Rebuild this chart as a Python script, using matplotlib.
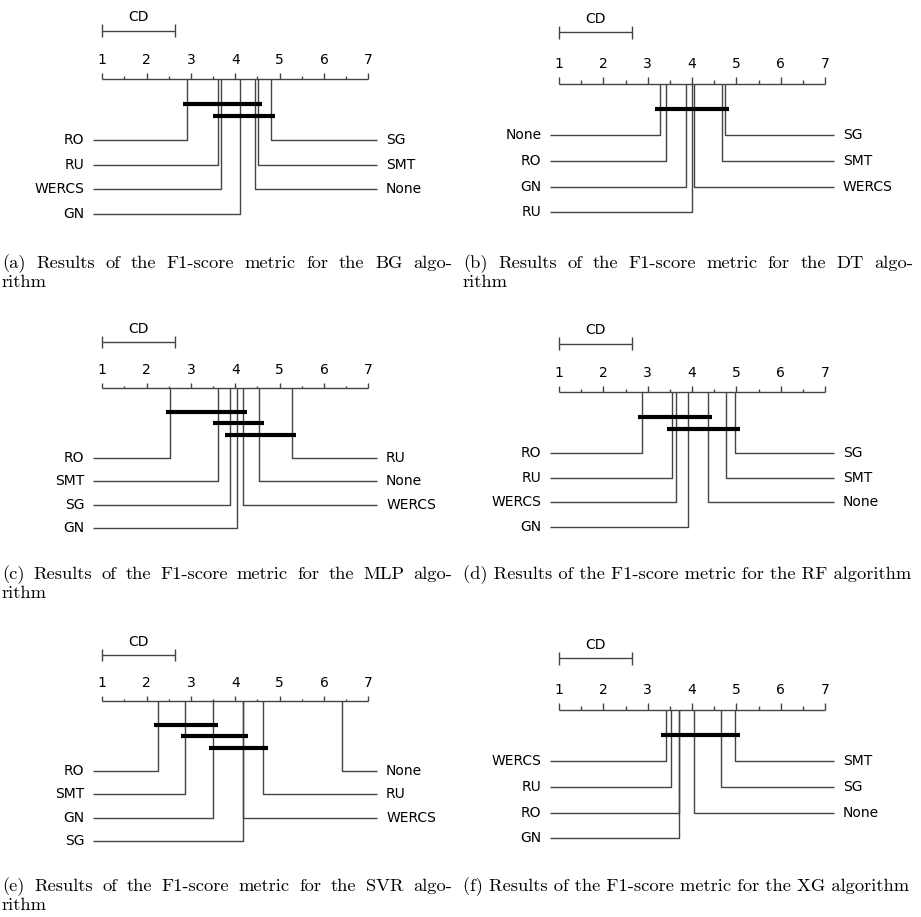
import numpy as np
import matplotlib.pyplot as plt

# average ranks (k=7, N=30)
cd = 1.645

bg_names = ['RO', 'RU', 'WERCS', 'GN', 'None', 'SMT', 'SG']
bg_ranks = [2.91, 3.60, 3.67, 4.11, 4.44, 4.51, 4.80]

dt_names = ['None', 'RO', 'GN', 'RU', 'WERCS', 'SMT', 'SG']
dt_ranks = [3.27, 3.42, 3.86, 4.00, 4.05, 4.67, 4.74]

mlp_names = ['RO', 'SMT', 'SG', 'GN', 'WERCS', 'None', 'RU']
mlp_ranks = [2.53, 3.60, 3.87, 4.03, 4.17, 4.54, 5.27]

rf_names = ['RO', 'RU', 'WERCS', 'GN', 'None', 'SMT', 'SG']
rf_ranks = [2.88, 3.54, 3.64, 3.90, 4.35, 4.77, 4.98]

svr_names = ['RO', 'SMT', 'GN', 'SG', 'WERCS', 'RU', 'None']
svr_ranks = [2.26, 2.87, 3.50, 4.17, 4.18, 4.63, 6.41]

xg_names = ['WERCS', 'RU', 'RO', 'GN', 'None', 'SG', 'SMT']
xg_ranks = [3.41, 3.53, 3.70, 3.71, 4.05, 4.65, 4.98]

captions = [
    ('(a) Results of the F1-score metric for the BG algo-', 'rithm'),
    ('(b) Results of the F1-score metric for the DT algo-', 'rithm'),
    ('(c) Results of the F1-score metric for the MLP algo-', 'rithm'),
    ('(d) Results of the F1-score metric for the RF algorithm', None),
    ('(e) Results of the F1-score metric for the SVR algo-', 'rithm'),
    ('(f) Results of the F1-score metric for the XG algorithm', None),
]

W, H = 921, 917
fig = plt.figure(figsize=(W / 100, H / 100), dpi=100)
fig.set_facecolor('white')

LC = '#444444'
FS = 10


def get_lines(sums, hsd):
    # pairs of not significantly different methods, keep only the longest
    n = len(sums)
    pairs = [(i, j) for i in range(n) for j in range(n) if j > i]
    notsig = [(i, j) for i, j in pairs if abs(sums[i] - sums[j]) <= hsd]

    def no_longer(i, j):
        for i1, j1 in notsig:
            if (i1 <= i and j1 > j) or (i1 < i and j1 >= j):
                return False
        return True
    return [(i, j) for i, j in notsig if no_longer(i, j)]


def cd_diagram(x1px, toppx, names, ranks):
    ranks = list(ranks)
    k = len(ranks)
    lines = get_lines(ranks, cd)
    linesblank = 0.2 + 0.2 + (len(lines) - 1) * 0.1
    minnotsig = max(0.4, linesblank)
    distanceh = 0.25
    cline = 0.4 + distanceh
    height = cline + ((k + 1) / 2) * 0.2 + minnotsig

    panel_h = 238
    ax = fig.add_axes([x1px / W, 1 - (toppx + panel_h) / H, 266 / W, panel_h / H])
    ax.set_xlim(1, 7)
    ax.set_ylim(height, 0)
    ax.set_axis_off()

    kw = dict(color=LC, lw=1.0, clip_on=False, solid_capstyle='butt')

    # scale
    ax.plot([1, 7], [cline, cline], **kw)
    for a in list(np.arange(1, 7, 0.5)) + [7]:
        tick = 0.1 if a == int(a) else 0.05
        ax.plot([a, a], [cline - tick / 2, cline], **kw)
    for a in range(1, 8):
        ax.text(a, cline - 0.1, str(a), ha='center', va='bottom', fontsize=FS)

    # method labels
    half = int(np.ceil(k / 2))
    for i in range(half):
        chei = cline + minnotsig + i * 0.2
        ax.plot([ranks[i], ranks[i], 0.8], [cline, chei, chei], **kw)
        ax.text(0.6, chei, names[i], ha='right', va='center', fontsize=FS)
    for i in range(half, k):
        chei = cline + minnotsig + (k - i - 1) * 0.2
        ax.plot([ranks[i], ranks[i], 7.2], [cline, chei, chei], **kw)
        ax.text(7.4, chei, names[i], ha='left', va='center', fontsize=FS)

    # CD scale
    ax.plot([1, 1 + cd], [distanceh, distanceh], **kw)
    for b in (1, 1 + cd):
        ax.plot([b, b], [distanceh - 0.05, distanceh + 0.05], **kw)
    ax.text(1 + cd / 2, distanceh - 0.05, 'CD', ha='center', va='bottom', fontsize=FS)

    # no-significance bars
    start = cline + 0.2
    for l, r in lines:
        ax.plot([ranks[l] - 0.1, ranks[r] + 0.1], [start, start], color='k',
                lw=3, solid_capstyle='butt', clip_on=False)
        start += 0.1


panels = [(bg_names, bg_ranks), (dt_names, dt_ranks), (mlp_names, mlp_ranks),
          (rf_names, rf_ranks), (svr_names, svr_ranks), (xg_names, xg_ranks)]
col_x1 = [102.3, 559.0]
row_top = [0, 313, 626]
cap_x = [2, 463]
cap_y = [268, 579, 891]

cap_kw = dict(family='cmr10', fontsize=13.3, va='baseline', ha='left')
renderer = fig.canvas.get_renderer()


def justified(x0, x1, y, s):
    words = s.split(' ')
    widths = []
    for w in words:
        t = fig.text(0, 0, w, **cap_kw)
        widths.append(t.get_window_extent(renderer).width)
        t.remove()
    gap = (x1 - x0 - sum(widths)) / (len(words) - 1)
    x = x0
    for w, wd in zip(words, widths):
        fig.text(x / W, 1 - y / H, w, **cap_kw)
        x += wd + gap


for idx, (names, ranks) in enumerate(panels):
    r, c = divmod(idx, 2)
    cd_diagram(col_x1[c], row_top[r], names, ranks)
    first, second = captions[idx]
    x0 = cap_x[c]
    if second is None:
        fig.text(x0 / W, 1 - cap_y[r] / H, first, **cap_kw)
    else:
        justified(x0, x0 + 450, cap_y[r], first)
        fig.text(x0 / W, 1 - (cap_y[r] + 19) / H, second, **cap_kw)

fig.savefig('out.png', dpi=100, facecolor='white')
